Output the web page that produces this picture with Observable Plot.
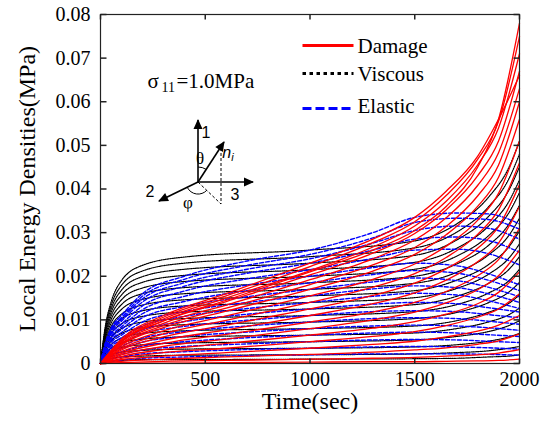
<!DOCTYPE html>
<html><head><meta charset="utf-8">
<script src="https://cdn.jsdelivr.net/npm/d3@7"></script>
<script src="https://cdn.jsdelivr.net/npm/@observablehq/plot@0.6"></script>
<style>body{margin:0;background:#fff} svg{display:block;background:#fff}</style>
</head><body><div id="chart"></div>
<script>
// ---- data ----
const tDamage = [0, 100, 300, 600, 1000, 1300, 1500, 1650, 1800, 1900, 2000];
const damage = [
  [0, .0050, .0098, .0145, .0210, .0260, .0305, .0360, .0450, .0560, .0780],
  [0, .0056, .0110, .0160, .0230, .0285, .0335, .0395, .0475, .0560, .0660],
  [0, .0053, .0106, .0155, .0222, .0277, .0325, .0385, .0468, .0555, .0750],
  [0, .0051, .0102, .0150, .0213, .0267, .0315, .0372, .0455, .0540, .0710],
  [0, .0049, .0097, .0142, .0203, .0253, .0298, .0352, .0430, .0510, .0670],
  [0, .0046, .0092, .0134, .0192, .0240, .0283, .0334, .0408, .0483, .0630],
  [0, .0044, .0087, .0127, .0181, .0226, .0266, .0314, .0384, .0455, .0600],
  [0, .0042, .0082, .0120, .0170, .0212, .0250, .0295, .0360, .0427, .0560],
  [0, .0038, .0075, .0109, .0155, .0193, .0228, .0269, .0328, .0390, .0510],
  [0, .0034, .0068, .0099, .0140, .0175, .0206, .0243, .0296, .0352, .0460],
  [0, .0031, .0061, .0088, .0125, .0156, .0184, .0217, .0264, .0314, .0410],
  [0, .0027, .0053, .0077, .0110, .0137, .0162, .0191, .0233, .0276, .0360],
  [0, .0023, .0046, .0067, .0095, .0118, .0140, .0165, .0201, .0238, .0310],
  [0, .0020, .0039, .0056, .0080, .0100, .0118, .0139, .0169, .0201, .0260],
  [0, .0016, .0032, .0046, .0065, .0081, .0096, .0113, .0137, .0163, .0210],
  [0, .0012, .0025, .0035, .0050, .0062, .0073, .0087, .0106, .0125, .0160],
  [0, .0009, .0017, .0025, .0035, .0044, .0051, .0061, .0074, .0088, .0110],
  [0, .0005, .0010, .0015, .0021, .0026, .0031, .0036, .0044, .0052, .0068],
  [0, .0002, .0005, .0007, .0010, .0012, .0014, .0017, .0020, .0024, .0032],
  [0, .0001, .0001, .0002, .0003, .0004, .0004, .0005, .0006, .0007, .0010]
];

const tViscous = [0, 25, 50, 100, 200, 400, 1000, 1500, 1700, 1850, 1950, 2000];
const viscous = [
  [0, .0091, .0140, .0190, .0225, .0244, .0260, .0281, .0320, .0380, .0450, .0510],
  [0, .0086, .0132, .0179, .0212, .0230, .0245, .0265, .0301, .0358, .0424, .0480],
  [0, .0081, .0124, .0168, .0199, .0216, .0230, .0248, .0283, .0336, .0398, .0451],
  [0, .0075, .0116, .0157, .0186, .0202, .0215, .0232, .0264, .0314, .0372, .0421],
  [0, .0070, .0108, .0146, .0173, .0188, .0200, .0216, .0246, .0292, .0346, .0392],
  [0, .0065, .0100, .0135, .0160, .0174, .0185, .0200, .0228, .0270, .0320, .0363],
  [0, .0060, .0092, .0124, .0147, .0160, .0170, .0184, .0209, .0248, .0294, .0333],
  [0, .0054, .0084, .0113, .0134, .0146, .0155, .0167, .0191, .0226, .0268, .0304],
  [0, .0049, .0076, .0102, .0121, .0132, .0140, .0151, .0172, .0204, .0242, .0274],
  [0, .0044, .0068, .0091, .0108, .0118, .0125, .0135, .0154, .0183, .0216, .0245],
  [0, .0039, .0059, .0080, .0095, .0103, .0110, .0119, .0135, .0161, .0190, .0216],
  [0, .0033, .0051, .0069, .0082, .0089, .0095, .0103, .0117, .0139, .0164, .0186],
  [0, .0028, .0043, .0058, .0069, .0075, .0080, .0086, .0098, .0117, .0138, .0157],
  [0, .0023, .0035, .0047, .0056, .0061, .0065, .0070, .0080, .0095, .0112, .0127],
  [0, .0018, .0027, .0037, .0043, .0047, .0050, .0054, .0062, .0073, .0087, .0098],
  [0, .0012, .0019, .0026, .0030, .0033, .0035, .0038, .0043, .0051, .0061, .0069],
  [0, .0007, .0011, .0015, .0017, .0019, .0020, .0022, .0025, .0029, .0035, .0039],
  [0, .0004, .0005, .0007, .0009, .0009, .0010, .0011, .0012, .0015, .0017, .0020]
];

const tElastic = [0, 25, 50, 100, 200, 400, 700, 1000, 1300, 1500, 1700, 1850, 2000];
const elastic = [
  [0, .0050, .0080, .0110, .0160, .0200, .0235, .0260, .0300, .0335, .0345, .0343, .0320],
  [0, .0048, .0078, .0105, .0154, .0193, .0225, .0250, .0288, .0323, .0333, .0330, .0308],
  [0, .0046, .0074, .0101, .0148, .0185, .0216, .0240, .0276, .0305, .0315, .0310, .0285],
  [0, .0044, .0071, .0097, .0141, .0177, .0207, .0230, .0260, .0285, .0290, .0282, .0255],
  [0, .0041, .0067, .0090, .0132, .0166, .0194, .0215, .0241, .0260, .0262, .0252, .0226],
  [0, .0038, .0062, .0084, .0123, .0154, .0180, .0200, .0220, .0230, .0224, .0206, .0180],
  [0, .0035, .0057, .0078, .0114, .0142, .0167, .0185, .0204, .0213, .0207, .0191, .0167],
  [0, .0032, .0053, .0071, .0105, .0131, .0153, .0170, .0187, .0196, .0190, .0175, .0153],
  [0, .0029, .0048, .0065, .0095, .0119, .0140, .0155, .0171, .0178, .0174, .0160, .0140],
  [0, .0027, .0043, .0059, .0086, .0108, .0126, .0140, .0154, .0161, .0157, .0144, .0126],
  [0, .0024, .0039, .0053, .0077, .0096, .0113, .0125, .0136, .0140, .0137, .0128, .0118],
  [0, .0021, .0034, .0046, .0068, .0085, .0099, .0110, .0119, .0121, .0119, .0112, .0105],
  [0, .0018, .0029, .0040, .0058, .0073, .0086, .0095, .0103, .0105, .0103, .0097, .0090],
  [0, .0015, .0025, .0034, .0049, .0062, .0072, .0080, .0086, .0088, .0086, .0082, .0076],
  [0, .0012, .0020, .0027, .0040, .0050, .0059, .0065, .0070, .0072, .0070, .0066, .0062],
  [0, .0010, .0016, .0021, .0031, .0039, .0045, .0050, .0054, .0055, .0054, .0051, .0048],
  [0, .0007, .0011, .0015, .0022, .0027, .0032, .0035, .0038, .0039, .0038, .0036, .0033],
  [0, .0004, .0006, .0008, .0012, .0015, .0018, .0020, .0022, .0022, .0022, .0021, .0019]
];

const xTicks = [0, 500, 1000, 1500, 2000];
const yTicks = [0, 0.01, 0.02, 0.03, 0.04, 0.05, 0.06, 0.07, 0.08];
const yTickLabels = ["0", "0.01", "0.02", "0.03", "0.04", "0.05", "0.06", "0.07", "0.08"];
const legendNames = ["Damage", "Viscous", "Elastic"];
const legendColors = ["#ff0000", "#000000", "#0000ff"];

// ---- build table ----
function rows(times, curves, type) {
  return curves.flatMap((vals, i) => vals.map((v, j) => ({type, id: type + i, t: times[j], v})));
}
const dataD = rows(tDamage, damage, "Damage");
const dataV = rows(tViscous, viscous, "Viscous");
const dataE = rows(tElastic, elastic, "Elastic");
const yLabel = new Map(yTicks.map((t, i) => [t, yTickLabels[i]]));

const seg = (dx, dy) => ({draw(ctx) { ctx.moveTo(0, 0); ctx.lineTo(dx, dy); }});
const hline = (w) => ({draw(ctx) { ctx.moveTo(-w / 2, 0); ctx.lineTo(w / 2, 0); }});

const serif = "Liberation Serif, Times New Roman, serif";
const txt = {fontFamily: serif, fill: "#000"};

const chart = Plot.plot({
  width: 541, height: 424,
  marginLeft: 100, marginRight: 22, marginTop: 14, marginBottom: 61,
  style: {fontFamily: serif, background: "#fff", color: "#000"},
  x: {domain: [0, 2000]},
  y: {domain: [0, 0.08]},
  marks: [
    Plot.line(dataV, {x: "t", y: "v", z: "id", stroke: legendColors[1], strokeWidth: 1.2, strokeDasharray: "1.2,1", curve: "monotone-x"}),
    Plot.line(dataE, {x: "t", y: "v", z: "id", stroke: legendColors[2], strokeWidth: 1.4, strokeDasharray: "4,2", curve: "monotone-x"}),
    Plot.line(dataD, {x: "t", y: "v", z: "id", stroke: legendColors[0], strokeWidth: 1.3, curve: "monotone-x"}),
    Plot.frame({stroke: "#222", strokeWidth: 1.2}),
    // inward ticks on all four sides
    Plot.dot(xTicks, {x: d => d, y: () => 0, symbol: seg(0, -5), stroke: "#222", fill: "none"}),
    Plot.dot(xTicks, {x: d => d, y: () => 0.08, symbol: seg(0, 5), stroke: "#222", fill: "none"}),
    Plot.dot(yTicks, {x: () => 0, y: d => d, symbol: seg(6, 0), stroke: "#222", fill: "none"}),
    Plot.dot(yTicks, {x: () => 2000, y: d => d, symbol: seg(-6, 0), stroke: "#222", fill: "none"}),
    Plot.axisX(xTicks, {tickSize: 0, tickPadding: 8, fontSize: 20, label: null, tickFormat: d => String(d), ...txt}),
    Plot.axisY(yTicks, {tickSize: 0, tickPadding: 10, fontSize: 20, label: null, tickFormat: d => yLabel.get(d), ...txt}),
    // axis titles
    Plot.text(["Time(sec)"], {frameAnchor: "bottom", dy: 45, lineAnchor: "bottom", textAnchor: "middle", fontSize: 24, ...txt}),
    Plot.text(["Local Energy Densities(MPa)"], {frameAnchor: "left", dx: -66, rotate: -90, lineAnchor: "bottom", textAnchor: "middle", fontSize: 24, ...txt}),
    // annotation
    Plot.text(["σ"], {frameAnchor: "top-left", dx: 47, dy: 73, lineAnchor: "bottom", textAnchor: "start", fontSize: 21, ...txt}),
    Plot.text(["11"], {frameAnchor: "top-left", dx: 61, dy: 77, lineAnchor: "bottom", textAnchor: "start", fontSize: 14, ...txt}),
    Plot.text(["=1.0MPa"], {frameAnchor: "top-left", dx: 76, dy: 73, lineAnchor: "bottom", textAnchor: "start", fontSize: 21, ...txt}),
    // legend
    Plot.dot([legendNames[0]], {frameAnchor: "top-left", dx: 227.5, dy: 31, symbol: hline(51), stroke: legendColors[0], strokeWidth: 3, fill: "none"}),
    Plot.dot([legendNames[1]], {frameAnchor: "top-left", dx: 227.5, dy: 59, symbol: hline(51), stroke: legendColors[1], strokeWidth: 3, strokeDasharray: "3.5,3.5", fill: "none"}),
    Plot.dot([legendNames[2]], {frameAnchor: "top-left", dx: 227.5, dy: 94, symbol: hline(51), stroke: legendColors[2], strokeWidth: 3, strokeDasharray: "9,4", fill: "none"}),
    Plot.text([legendNames[0]], {frameAnchor: "top-left", dx: 257, dy: 38, lineAnchor: "bottom", textAnchor: "start", fontSize: 21, ...txt}),
    Plot.text([legendNames[1]], {frameAnchor: "top-left", dx: 257, dy: 66, lineAnchor: "bottom", textAnchor: "start", fontSize: 21, ...txt}),
    Plot.text([legendNames[2]], {frameAnchor: "top-left", dx: 257, dy: 98, lineAnchor: "bottom", textAnchor: "start", fontSize: 21, ...txt})
  ]
});
document.getElementById("chart").append(chart);

// ---- inset orientation sketch ----
const s = d3.select(chart);
const defs = s.append("defs");
defs.append("marker").attr("id", "arrHead").attr("viewBox", "0 0 10 10")
  .attr("refX", 9).attr("refY", 5).attr("markerWidth", 11).attr("markerHeight", 10)
  .attr("markerUnits", "userSpaceOnUse").attr("orient", "auto")
  .append("path").attr("d", "M0,0.5 L10,5 L0,9.5 z").attr("fill", "#000").attr("stroke", "none");
const g = s.append("g").attr("stroke", "#000").attr("fill", "none").attr("stroke-width", 1.6);
["M198,182 L198,120", "M198,182 L253,182", "M198,182 L159,201", "M198,182 L224,142"]
  .forEach(d => g.append("path").attr("d", d).attr("marker-end", "url(#arrHead)"));
g.append("path").attr("d", "M221,148 L221,204").attr("stroke-dasharray", "3,2").attr("stroke-width", 1);
g.append("path").attr("d", "M198,182 L221,204").attr("stroke-dasharray", "3,2").attr("stroke-width", 1);
g.append("path").attr("d", "M198,167 A15,15 0 0,1 206.2,169.4").attr("stroke-width", 1);
g.append("path").attr("d", "M187.3,187.4 A12,12 0 0,0 206.9,190.2").attr("stroke-width", 1);
const tg = s.append("g").attr("font-family", "Liberation Sans, Arial, sans-serif").attr("font-size", 16).attr("fill", "#000");
tg.append("text").attr("x", 206).attr("y", 138).text("1");
tg.append("text").attr("x", 150).attr("y", 197).text("2");
tg.append("text").attr("x", 235).attr("y", 200).text("3");
tg.append("text").attr("x", 200).attr("y", 164).attr("font-family", serif).attr("font-size", 17).text("θ");
tg.append("text").attr("x", 188).attr("y", 208).attr("font-family", serif).attr("font-size", 17).text("φ");
const ni = tg.append("text").attr("x", 228).attr("y", 158).attr("font-style", "italic");
ni.append("tspan").text("n");
ni.append("tspan").attr("font-size", 11).attr("dy", 3).text("i");
</script>
</body></html>
